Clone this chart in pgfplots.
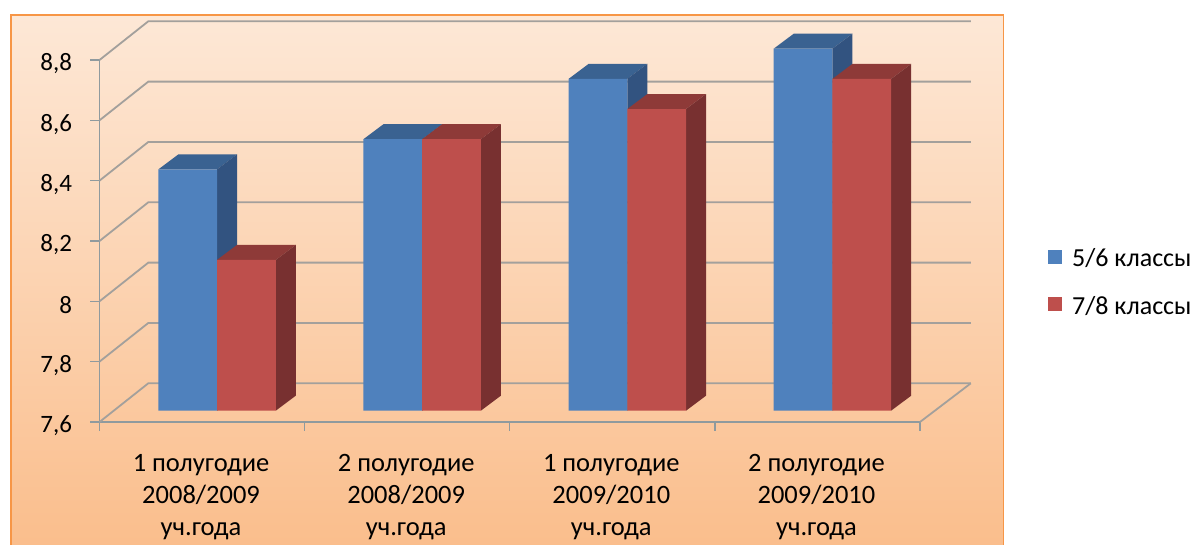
\documentclass[border=0pt]{standalone}
\usepackage{fontspec}
\setmainfont{Carlito}
\usepackage{pgfplots}
\pgfplotsset{compat=1.18}
\definecolor{bluefront}{HTML}{4F81BD}
\definecolor{bluetop}{HTML}{3A6291}
\definecolor{blueside}{HTML}{325380}
\definecolor{redfront}{HTML}{BE4F4C}
\definecolor{redtop}{HTML}{8E3A38}
\definecolor{redside}{HTML}{783030}
\definecolor{wallline}{HTML}{A3A09C}
\definecolor{axline}{HTML}{8F9A9E}
\definecolor{panelborder}{HTML}{F79646}
\newcommand\barW{0.2862}
\newcommand\barDx{0.0975}
\newcommand\barDy{0.0497}
% #1 category, #2 value, #3 -1 (left bar) or 0 (right bar), #4 top colour, #5 side colour
\newcommand\barfaces[5]{%
  \pgfmathsetmacro\xl{#1+(#3)*\barW}%
  \pgfmathsetmacro\xr{\xl+\barW}%
  \pgfmathsetmacro\xlb{\xl+\barDx}%
  \pgfmathsetmacro\xrb{\xr+\barDx}%
  \pgfmathsetmacro\vb{#2+\barDy}%
  \pgfmathsetmacro\bb{7.6+\barDy}%
  \edef\tmp{\noexpand\addplot[fill=#4,draw=none,forget plot,barplane] coordinates {(\xl,#2)(\xr,#2)(\xrb,\vb)(\xlb,\vb)};
  \noexpand\addplot[fill=#5,draw=none,forget plot,barplane] coordinates {(\xr,7.6)(\xrb,\bb)(\xrb,\vb)(\xr,#2)};}%
  \tmp}
\newcommand\wallrow[1]{%
  \pgfmathsetmacro\vb{#1+0.1283}%
  \edef\tmp{\noexpand\addplot[wallline,line width=1.8pt,forget plot] coordinates {(-0.5,#1)(-0.262,\vb)(3.7478,\vb)};}%
  \tmp}
\begin{document}
\begin{tikzpicture}[x=1pt,y=1pt]
\useasboundingbox (0,0) rectangle (1194,545);
\shade[top color=panelborder!22!white,middle color=panelborder!34!white,bottom color=panelborder!62!white] (11,0) rectangle (1003.5,530);
\draw[panelborder,line width=1.6pt] (11,0) -- (11,530) -- (1003.5,530) -- (1003.5,0);
\begin{axis}[
  at={(99.5pt,123pt)},anchor=south west,
  scale only axis,width=820.5pt,height=362pt,
  clip=false,
  xmin=-0.5,xmax=3.5,ymin=7.6,ymax=8.8,
  y coord trafo/.code={\pgfmathparse{#1-7.6}},
  axis x line*=bottom,axis y line*=left,
  axis line style={-,axline,line width=1.4pt},
  tick align=outside,major tick length=9pt,
  tick style={axline,line width=1.3pt},
  xtick={-0.5,0.5,1.5,2.5,3.5},xticklabels={,,,,},
  extra x ticks={0,1,2,3},
  extra x tick style={major tick length=0pt,tick style={draw=none}},
  extra x tick labels={{1 полугодие\\2008/2009\\уч.года},{2 полугодие\\2008/2009\\уч.года},{1 полугодие\\2009/2010\\уч.года},{2 полугодие\\2009/2010\\уч.года}},
  xticklabel style={align=center,font=\fontsize{26.5}{32}\selectfont,anchor=north,yshift=-29pt,xshift=-1pt},
  ytick={7.6,7.8,8,8.2,8.4,8.6,8.8},
  yticklabels={{7,6},{7,8},{8},{8,2},{8,4},{8,6},{8,8}},
  yticklabel style={font=\fontsize{25}{30}\selectfont,anchor=east,xshift=-15pt,yshift=-4pt},
  legend style={at={(1.156,0.3867)},anchor=west,draw=none,fill=none,inner sep=0pt,
    font=\fontsize{26}{28}\selectfont,row sep=24pt,
    /tikz/every odd column/.append style={column sep=8pt}},
  legend cell align=left,
  legend image code/.code={\fill[#1] (0pt,-17pt) rectangle (14pt,-3pt);},
  barplane/.style={xshift=15pt,yshift=11.3pt},
]
\wallrow{7.6}\wallrow{7.8}\wallrow{8}\wallrow{8.2}\wallrow{8.4}\wallrow{8.6}\wallrow{8.8}
\addplot[wallline,line width=1.8pt,forget plot] coordinates {(3.5,7.6)(3.7478,7.7283)};
\barfaces{0}{8.4}{-1}{bluetop}{blueside}
\barfaces{1}{8.5}{-1}{bluetop}{blueside}
\barfaces{2}{8.7}{-1}{bluetop}{blueside}
\barfaces{3}{8.8}{-1}{bluetop}{blueside}
\addplot[ybar,bar width=58.7pt,bar shift=-29.35pt,fill=bluefront,draw=none,barplane] coordinates {(0,8.4)(1,8.5)(2,8.7)(3,8.8)};
\barfaces{0}{8.1}{0}{redtop}{redside}
\barfaces{1}{8.5}{0}{redtop}{redside}
\barfaces{2}{8.6}{0}{redtop}{redside}
\barfaces{3}{8.7}{0}{redtop}{redside}
\addplot[ybar,bar width=58.7pt,bar shift=29.35pt,fill=redfront,draw=none,barplane] coordinates {(0,8.1)(1,8.5)(2,8.6)(3,8.7)};
\legend{5/6 классы,7/8 классы}
\end{axis}
\end{tikzpicture}
\end{document}
